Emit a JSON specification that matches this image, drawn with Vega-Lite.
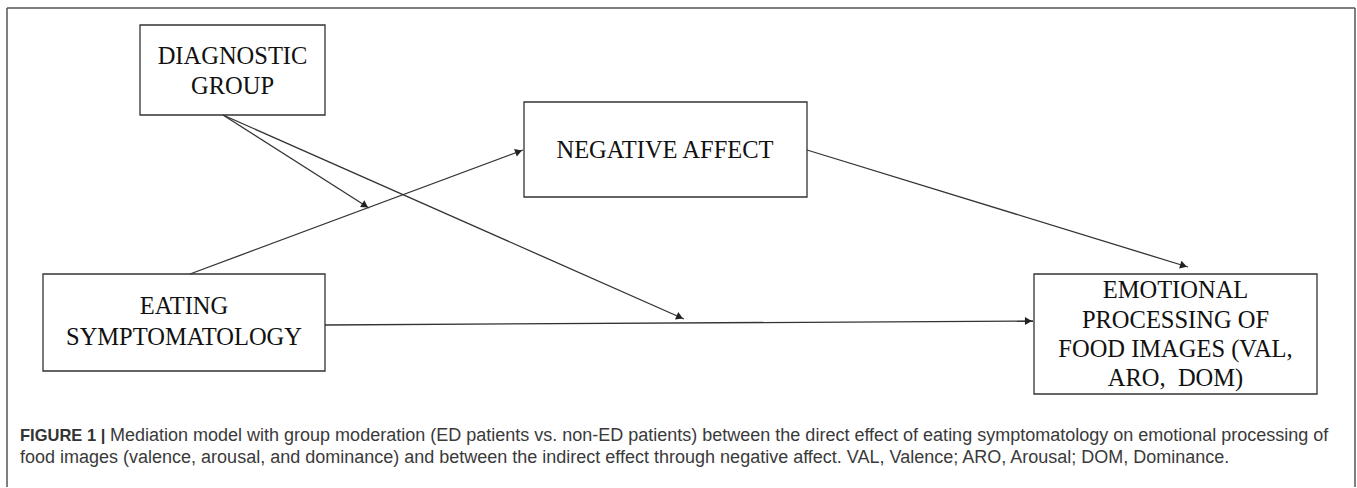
{
  "$schema": "https://vega.github.io/schema/vega-lite/v6.json",
  "width": 1357,
  "height": 488,
  "padding": 0,
  "autosize": {"type": "fit", "contains": "padding"},
  "background": "white",
  "config": {"view": {"stroke": null}},
  "datasets": {
    "frame": [
      {"x1": 7, "y1": 8, "x2": 1355, "y2": 8},
      {"x1": 7, "y1": 8, "x2": 7, "y2": 487},
      {"x1": 1355, "y1": 8, "x2": 1355, "y2": 487}
    ],
    "boxes": [
      {"name": "Diagnostic group", "x1": 140, "x2": 325, "y1": 25, "y2": 115},
      {"name": "Negative affect", "x1": 524, "x2": 807, "y1": 102, "y2": 197},
      {"name": "Eating symptomatology", "x1": 43, "x2": 325, "y1": 274, "y2": 371},
      {"name": "Emotional processing", "x1": 1034, "x2": 1317, "y1": 274, "y2": 394}
    ],
    "arrows": [
      {"path": "Eating to NA", "x1": 190, "y1": 274, "x2": 523, "y2": 150},
      {"path": "Group moderates a", "x1": 223, "y1": 115, "x2": 369, "y2": 208},
      {"path": "Group moderates c", "x1": 223, "y1": 115, "x2": 684, "y2": 319},
      {"path": "Eating to Emotional", "x1": 325, "y1": 325, "x2": 1033, "y2": 321},
      {"path": "NA to Emotional", "x1": 807, "y1": 150, "x2": 1188, "y2": 267}
    ],
    "labels": [
      {"text": "DIAGNOSTIC", "x": 232.5, "y": 64},
      {"text": "GROUP", "x": 232.5, "y": 94},
      {"text": "NEGATIVE AFFECT", "x": 665, "y": 158},
      {"text": "EATING", "x": 184, "y": 314},
      {"text": "SYMPTOMATOLOGY", "x": 184, "y": 345},
      {"text": "EMOTIONAL", "x": 1175.5, "y": 298},
      {"text": "PROCESSING OF", "x": 1175.5, "y": 328},
      {"text": "FOOD IMAGES (VAL,", "x": 1175.5, "y": 357},
      {"text": "ARO, \u00a0DOM)", "x": 1175.5, "y": 386}
    ],
    "captionBold": [
      {"text": "FIGURE 1 |", "x": 20, "y": 441}
    ],
    "caption": [
      {"text": "Mediation model with group moderation (ED patients vs. non-ED patients) between the direct effect of eating symptomatology on emotional processing of", "x": 110, "y": 441},
      {"text": "food images (valence, arousal, and dominance) and between the indirect effect through negative affect. VAL, Valence; ARO, Arousal; DOM, Dominance.", "x": 20, "y": 463}
    ]
  },
  "layer": [
    {
      "data": {"name": "frame"},
      "mark": {"type": "rule", "color": "#555555", "strokeWidth": 1.5},
      "encoding": {
        "x": {"field": "x1", "type": "quantitative", "scale": {"domain": [0, 1357], "nice": false, "zero": false}, "axis": null},
        "x2": {"field": "x2"},
        "y": {"field": "y1", "type": "quantitative", "scale": {"domain": [0, 488], "nice": false, "zero": false, "reverse": true}, "axis": null},
        "y2": {"field": "y2"}
      }
    },
    {
      "data": {"name": "boxes"},
      "mark": {"type": "rect", "fill": "white", "stroke": "#333333", "strokeWidth": 1.3},
      "encoding": {
        "x": {"field": "x1", "type": "quantitative", "scale": {"domain": [0, 1357], "nice": false, "zero": false}, "axis": null},
        "x2": {"field": "x2"},
        "y": {"field": "y1", "type": "quantitative", "scale": {"domain": [0, 488], "nice": false, "zero": false, "reverse": true}, "axis": null},
        "y2": {"field": "y2"}
      }
    },
    {
      "data": {"name": "arrows"},
      "mark": {"type": "rule", "color": "#333333", "strokeWidth": 1.3},
      "encoding": {
        "x": {"field": "x1", "type": "quantitative", "scale": {"domain": [0, 1357], "nice": false, "zero": false}, "axis": null},
        "x2": {"field": "x2"},
        "y": {"field": "y1", "type": "quantitative", "scale": {"domain": [0, 488], "nice": false, "zero": false, "reverse": true}, "axis": null},
        "y2": {"field": "y2"}
      }
    },
    {
      "data": {"name": "arrows"},
      "transform": [
        {"calculate": "sqrt(pow(datum.x2 - datum.x1, 2) + pow(datum.y2 - datum.y1, 2))", "as": "len"},
        {"calculate": "atan2(datum.y2 - datum.y1, datum.x2 - datum.x1) * 180 / PI", "as": "ang"},
        {"calculate": "datum.x2 - 4.6 * (datum.x2 - datum.x1) / datum.len", "as": "hx"},
        {"calculate": "datum.y2 - 4.6 * (datum.y2 - datum.y1) / datum.len", "as": "hy"}
      ],
      "mark": {"type": "point", "shape": "triangle-right", "filled": true, "color": "#222222", "opacity": 1, "size": 64, "strokeWidth": 0},
      "encoding": {
        "x": {"field": "hx", "type": "quantitative", "scale": {"domain": [0, 1357], "nice": false, "zero": false}, "axis": null},
        "y": {"field": "hy", "type": "quantitative", "scale": {"domain": [0, 488], "nice": false, "zero": false, "reverse": true}, "axis": null},
        "angle": {"field": "ang", "type": "quantitative", "scale": null}
      }
    },
    {
      "data": {"name": "labels"},
      "mark": {"type": "text", "font": "Liberation Serif", "fontSize": 24.5, "color": "#111111", "align": "center", "baseline": "alphabetic"},
      "encoding": {
        "x": {"field": "x", "type": "quantitative", "scale": {"domain": [0, 1357], "nice": false, "zero": false}, "axis": null},
        "y": {"field": "y", "type": "quantitative", "scale": {"domain": [0, 488], "nice": false, "zero": false, "reverse": true}, "axis": null},
        "text": {"field": "text"}
      }
    },
    {
      "data": {"name": "captionBold"},
      "mark": {"type": "text", "font": "Liberation Sans", "fontSize": 16.5, "fontWeight": "bold", "color": "#333333", "align": "left", "baseline": "alphabetic"},
      "encoding": {
        "x": {"field": "x", "type": "quantitative", "scale": {"domain": [0, 1357], "nice": false, "zero": false}, "axis": null},
        "y": {"field": "y", "type": "quantitative", "scale": {"domain": [0, 488], "nice": false, "zero": false, "reverse": true}, "axis": null},
        "text": {"field": "text"}
      }
    },
    {
      "data": {"name": "caption"},
      "mark": {"type": "text", "font": "Liberation Sans", "fontSize": 18, "color": "#3a3a3a", "align": "left", "baseline": "alphabetic"},
      "encoding": {
        "x": {"field": "x", "type": "quantitative", "scale": {"domain": [0, 1357], "nice": false, "zero": false}, "axis": null},
        "y": {"field": "y", "type": "quantitative", "scale": {"domain": [0, 488], "nice": false, "zero": false, "reverse": true}, "axis": null},
        "text": {"field": "text"}
      }
    }
  ]
}
